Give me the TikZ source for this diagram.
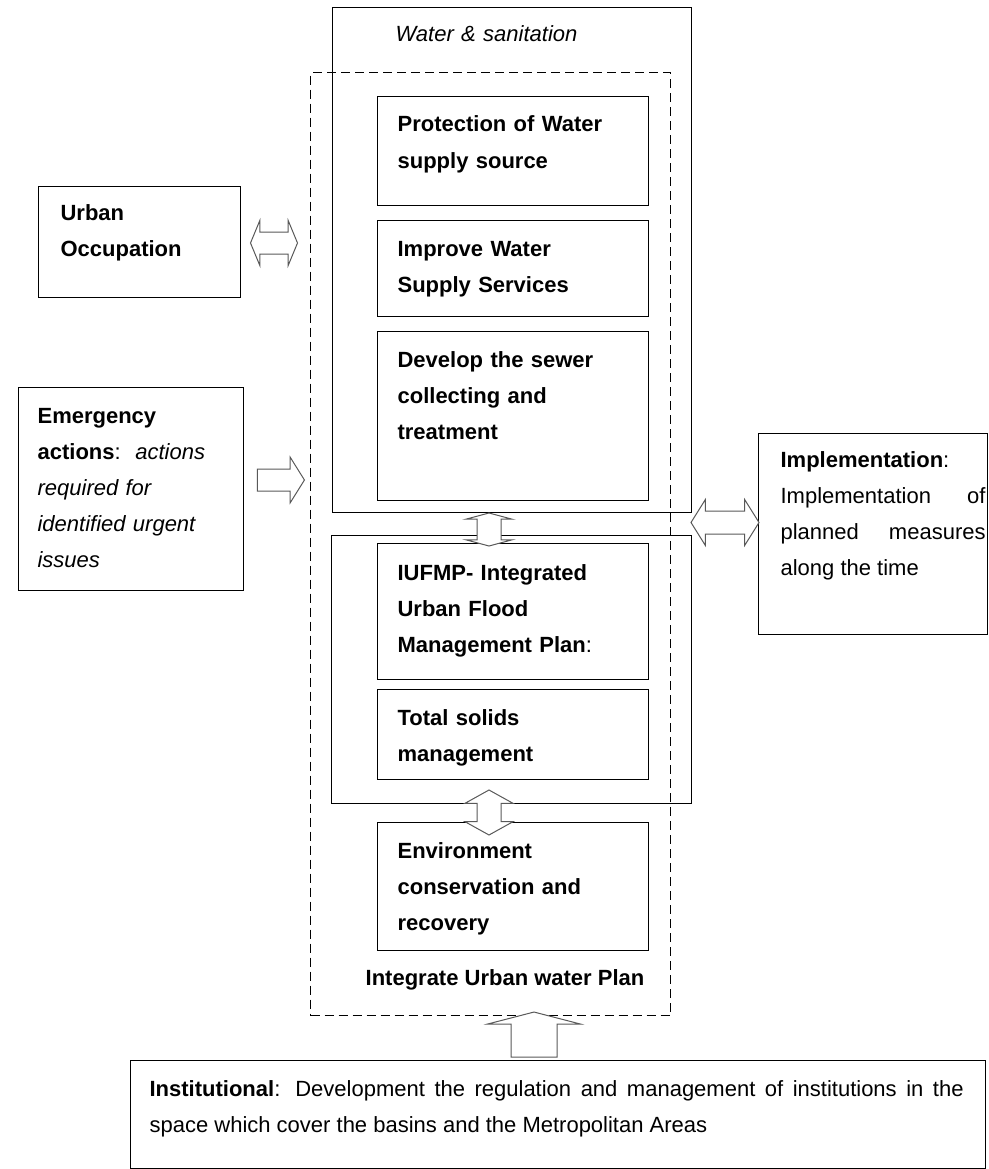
\documentclass[tikz,border=0pt]{standalone}
\usepackage{fontspec}
\setmainfont{Liberation Sans}
\usetikzlibrary{shapes.arrows}
\tikzset{
  every picture/.style={line width=1.2pt},
  box/.style={draw, anchor=north west, inner sep=0pt},
  frame/.style={box, dash pattern=on 9pt off 5pt},
  bodytxt/.style={anchor=base west, inner sep=0pt, align=left, text width=#1, font=\fontsize{22}{36}\selectfont},
  bodytxt/.default=250pt,
  headtxt/.style={bodytxt=#1, font=\bfseries\fontsize{22}{36}\selectfont},
  headtxt/.default=250pt,
  blk/.style={draw=black!65, fill=white, line width=1pt, inner xsep=0pt, text height=0pt, text depth=0pt},
}

\begin{document}
\begin{tikzpicture}[x=1pt, y=-1pt,
    twoway/.style n args={4}{double arrow, blk, minimum height=#1, inner ysep=#2, double arrow head extend=#3, double arrow tip angle=#4},
    oneway/.style n args={4}{single arrow, blk, minimum height=#1, inner ysep=#2, single arrow head extend=#3, single arrow tip angle=#4},
  ]
  \useasboundingbox (0,0) rectangle (988,1169);

  % the plan and its two groups
  \node[frame, minimum width=360, minimum height=943] (plan) at (310,72) {};
  \node[box, minimum width=359, minimum height=505] (water) at (332,7) {};
  \node[bodytxt, font=\itshape\fontsize{22}{36}\selectfont] (watertxt) at (395,42) {Water \& sanitation};
  \node[box, minimum width=360, minimum height=268] (flood) at (331,535) {};

  % inner steps
  \node[box, minimum width=271, minimum height=109] (prot) at (377,96) {};
  \node[box, minimum width=271, minimum height=96] (impr) at (377,220) {};
  \node[box, minimum width=271, minimum height=169] (sewer) at (377,331) {};
  \node[box, minimum width=271, minimum height=136] (iufmp) at (377,543) {};
  \node[box, minimum width=271, minimum height=90] (solids) at (377,689) {};
  \node[box, minimum width=271, minimum height=128] (env) at (377,822) {};
  \node[headtxt] (prottxt) at (397,132) {Protection of Water\\supply source};
  \node[headtxt] (imprtxt) at (397,256) {Improve Water\\Supply Services};
  \node[headtxt] (sewertxt) at (397,367) {Develop the sewer\\collecting and\\treatment};
  \node[headtxt] (iufmptxt) at (397,580) {IUFMP- Integrated\\Urban Flood\\Management Plan\textmd{:}};
  \node[headtxt] (solidstxt) at (397,725) {Total solids\\management};
  \node[headtxt] (envtxt) at (397,858) {Environment\\conservation and\\recovery};
  \node[anchor=base, inner sep=0pt, font=\bfseries\fontsize{22}{36}\selectfont] (plantxt) at (505,985) {Integrate Urban water Plan};

  % outside boxes
  \node[box, minimum width=202, minimum height=111] (urban) at (38,186) {};
  \node[headtxt] (urbantxt) at (60,220) {Urban\\Occupation};
  \node[box, minimum width=225, minimum height=203] (emerg) at (18,387) {};
  \node[bodytxt, font=\itshape\fontsize{22}{36}\selectfont] (emergtxt) at (37,423)
    {\textbf{\upshape Emergency}\\\textbf{\upshape actions}{\upshape :}~~actions\\required for\\identified urgent\\issues};
  \node[box, minimum width=229, minimum height=201] (impl) at (758,433) {};
  \node[bodytxt=205pt, align=justify] (impltxt) at (780,467)
    {\textbf{Implementation}:\\Implementation of\linebreak planned measures\linebreak along the time};
  \node[box, minimum width=855, minimum height=108] (inst) at (130,1060) {};
  \node[bodytxt=814pt, align=justify] (insttxt) at (149,1096)
    {\textbf{Institutional}: Development the regulation and management of institutions in the\linebreak space which cover the basins and the Metropolitan Areas};

  % block arrows
  \node[twoway={47}{10.5}{11.5}{135}] (a1) at (274,243) {};
  \node[oneway={47}{10.5}{12}{116}] (a2) at (277.5,480) {};
  \node[twoway={33}{11.5}{11}{150}, rotate=90] (a3) at (489,529.5) {};
  \node[twoway={45}{11.5}{12}{122}, rotate=90] (a4) at (489,812.5) {};
  \node[twoway={68}{11}{11.5}{116}] (a5) at (725,522.5) {};
  \node[oneway={45}{22.5}{23.5}{151}, rotate=90] (a6) at (534,1037.5) {};
\end{tikzpicture}
\end{document}
